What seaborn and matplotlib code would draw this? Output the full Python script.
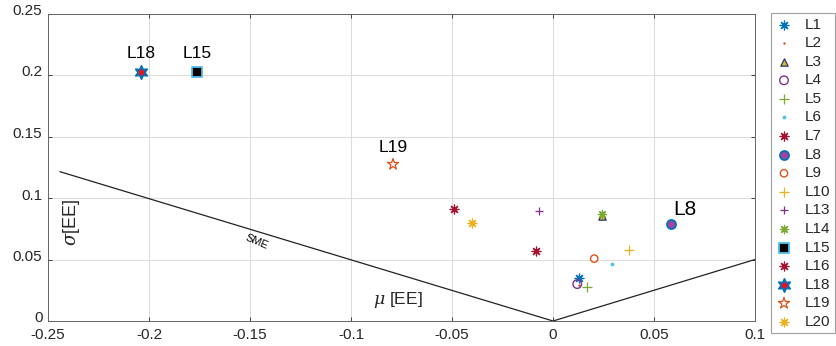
import numpy as np
import pandas as pd
import matplotlib
matplotlib.use("Agg")
import matplotlib.pyplot as plt
import matplotlib.transforms as mtransforms
import seaborn as sns

# ---- data ----
labels = ["L1", "L2", "L3", "L4", "L5", "L6", "L7", "L8", "L9", "L10",
          "L13", "L14", "L15", "L16", "L18", "L19", "L20"]
mu = [0.0130, 0.0127, 0.0243, 0.0120, 0.0168, 0.0294, -0.0086, 0.0582, 0.0204, 0.0376,
      -0.0069, 0.0243, -0.176, -0.0492, -0.204, -0.0792, -0.0400]
sigma = [0.0350, 0.0295, 0.0854, 0.0300, 0.0274, 0.0461, 0.0572, 0.0791, 0.0507, 0.0577,
         0.0897, 0.0867, 0.2022, 0.0908, 0.2022, 0.1274, 0.0799]
annotated = ["L18", "L15", "L19", "L8"]
sme_mu = [-0.2441, 0.0, 0.1]
sme_sigma = [0.1214, 0.0, 0.05]
xticks = [-0.25, -0.2, -0.15, -0.1, -0.05, 0, 0.05, 0.1]
xticklabels = ["-0.25", "-0.2", "-0.15", "-0.1", "-0.05", "0", "0.05", "0.1"]
yticks = [0, 0.05, 0.1, 0.15, 0.2, 0.25]
yticklabels = ["0", "0.05", "0.1", "0.15", "0.2", "0.25"]

df = pd.DataFrame({"label": labels, "mu": mu, "sigma": sigma})
sme = pd.DataFrame({"mu": sme_mu, "sigma": sme_sigma})

# ---- styles ----
blue, orange, yellow, purple = "#0072BD", "#D95319", "#EDB120", "#7E2F8E"
green, cyan, dred = "#77AC30", "#4DBEEE", "#A2142F"
AST = (8, 2, 0)
styles = {
    "L1": dict(marker=AST, color=blue, s=40, linewidth=0.9),
    "L2": dict(marker=".", color=orange, s=12, linewidth=0, edgecolor=orange),
    "L3": dict(marker="^", facecolor=yellow, edgecolor="#1f3a7a", s=28, linewidth=0.9),
    "L4": dict(marker="o", facecolor="none", edgecolor=purple, s=38, linewidth=1.0),
    "L5": dict(marker="+", color=green, s=55, linewidth=0.9),
    "L6": dict(marker=".", color=cyan, s=30, linewidth=0, edgecolor=cyan),
    "L7": dict(marker=AST, color=dred, s=40, linewidth=0.9),
    "L8": dict(marker="o", facecolor="#A4449C", edgecolor=blue, s=42, linewidth=1.3),
    "L9": dict(marker="o", facecolor="none", edgecolor=orange, s=28, linewidth=1.0),
    "L10": dict(marker="+", color=yellow, s=45, linewidth=0.9),
    "L13": dict(marker="+", color=purple, s=40, linewidth=0.9),
    "L14": dict(marker=AST, color=green, s=35, linewidth=0.9),
    "L15": dict(marker="s", facecolor="black", edgecolor=cyan, s=45, linewidth=1.3),
    "L16": dict(marker=AST, color=dred, s=40, linewidth=0.9),
    "L18": dict(marker=(6, 1, 0), facecolor="#E8141B", edgecolor=blue, s=90, linewidth=1.3),
    "L19": dict(marker="*", facecolor="none", edgecolor=orange, s=70, linewidth=0.9),
    "L20": dict(marker=AST, color=yellow, s=40, linewidth=0.9),
}
label_fs = {"L18": 12.5, "L15": 12.5, "L19": 12.5, "L8": 15}
label_off = {"L18": (0.0, 0.0115), "L15": (0.0, 0.0115), "L19": (0.0, 0.010),
             "L8": (0.0073, 0.007)}

sns.set_theme(style="white")
plt.rcParams["font.family"] = ["Liberation Sans", "DejaVu Sans"]
plt.rcParams["mathtext.fontset"] = "dejavuserif"

fig = plt.figure(figsize=(8.36, 3.46), dpi=100)
ax = fig.add_axes([48 / 836, 1 - 321 / 346, (755 - 48) / 836, (321 - 13.5) / 346])

# SME boundary
sns.lineplot(data=sme, x="mu", y="sigma", ax=ax, color="#222222", linewidth=0.9,
             sort=False, estimator=None, legend=False)

for lab in labels:
    sub = df[df["label"] == lab]
    sns.scatterplot(data=sub, x="mu", y="sigma", ax=ax, label=lab, legend=False,
                    zorder=3, **styles[lab])

for lab in annotated:
    r = df[df["label"] == lab].iloc[0]
    dx, dy = label_off[lab]
    ax.text(r["mu"] + dx, r["sigma"] + dy, lab, ha="center", va="baseline",
            fontsize=label_fs[lab], color="black")

ax.text(-0.1468, 0.0644, "SME", rotation=-23, ha="center", va="center",
        fontsize=8, color="black")
ax.text(-0.0766, 0.017, r"$\mu$ [EE]", ha="center", va="center", fontsize=12.5)
ax.text(-0.2385, 0.080, r"$\sigma$[EE]", ha="center", va="center", fontsize=13,
        rotation=90)

ax.set_xlim(-0.25, 0.1)
ax.set_ylim(0, 0.25)
ax.set_xticks(xticks)
ax.set_xticklabels(xticklabels)
ax.set_yticks(yticks)
ax.set_yticklabels(yticklabels)
ax.set_xlabel("")
ax.set_ylabel("")
ax.grid(True, color="#dcdcdc", linewidth=0.8)
ax.set_axisbelow(True)
ax.tick_params(axis="both", labelsize=11, colors="#262626", direction="in",
               length=3, width=0.6, top=True, right=True, bottom=True, left=True)
ax.tick_params(axis="x", pad=5)
ax.tick_params(axis="y", pad=4)
shift = mtransforms.ScaledTranslation(0, 4 / 100, fig.dpi_scale_trans)
for t in ax.get_yticklabels():
    t.set_transform(t.get_transform() + shift)
for sp in ax.spines.values():
    sp.set_color("#666666")
    sp.set_linewidth(0.7)

leg = ax.legend(loc="upper left", bbox_to_anchor=(771 / 836, 1 - 13 / 346),
                bbox_transform=fig.transFigure, frameon=True, fancybox=False,
                fontsize=11, handlelength=1.1, handletextpad=0.8,
                labelspacing=0.30, borderpad=0.3, borderaxespad=0)
leg.get_frame().set_edgecolor("#888888")
leg.get_frame().set_linewidth(0.8)

fig.savefig("out.png", dpi=100)
